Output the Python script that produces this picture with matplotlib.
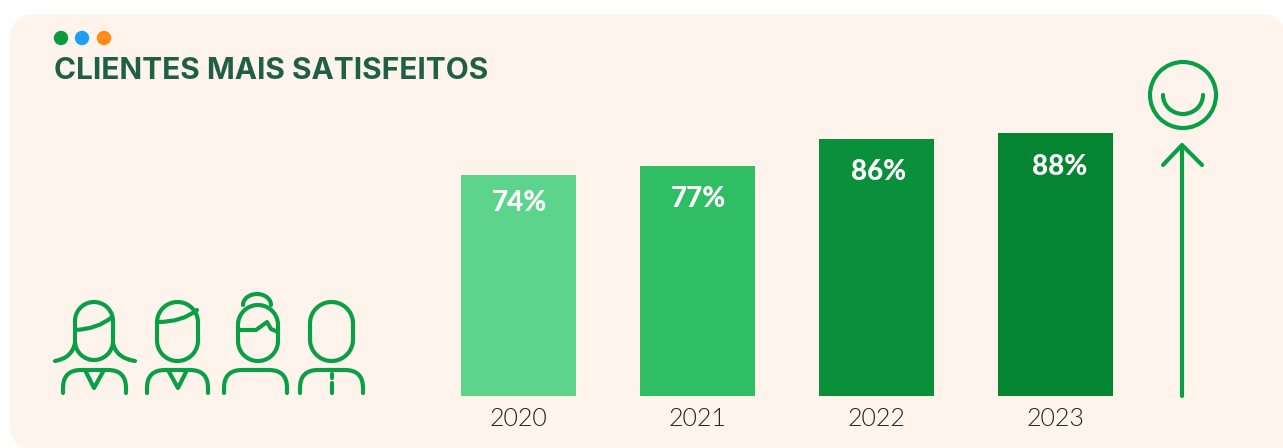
import numpy as np
import matplotlib
matplotlib.use("Agg")
import matplotlib.pyplot as plt
from matplotlib.patches import FancyBboxPatch, Circle, Arc, Rectangle
from matplotlib.path import Path
from matplotlib.patches import PathPatch

years = ["2020", "2021", "2022", "2023"]
satisfaction = [74, 77, 86, 88]
value_labels = ["74%", "77%", "86%", "88%"]
bar_colors = ["#5cd48c", "#2fbe63", "#0a8f3a", "#058432"]
label_drop = [9.5, 11.2, 11.2, 11.5]
label_shift = [1, 1, 3, 5]
title = "CLIENTES MAIS SATISFEITOS"

W, H = 1283, 448
PANEL = "#fef4ec"
GREEN = "#0a9f47"
fig = plt.figure(figsize=(W / 100, H / 100), dpi=100, facecolor="white")

bg = fig.add_axes([0, 0, 1, 1])
bg.set_xlim(0, W)
bg.set_ylim(H, 0)
bg.axis("off")
bg.add_patch(FancyBboxPatch((10, 14), 1276, 436, boxstyle="round,pad=0,rounding_size=26",
                            fc=PANEL, ec="none"))
bg.add_patch(Rectangle((600, 200), 700, 260, fc=PANEL, ec="none"))
for x, c in zip([61, 82, 104], ["#0a9b40", "#1e9ff2", "#ff8c14"]):
    bg.add_patch(Circle((x, 38), 7.2, fc=c, ec="none"))
bg.text(54, 71, title, family="Inter", weight="bold", fontsize=21.5, color="#1f5f46",
        ha="left", va="center")

LW = 3.0
def curve(verts, codes=None):
    if codes is None:
        codes = [Path.MOVETO] + [Path.LINETO] * (len(verts) - 1)
    bg.add_patch(PathPatch(Path(verts, codes), fc="none", ec=GREEN, lw=LW,
                           capstyle="round", joinstyle="round"))

def stadium(x0, x1, y0, y1):
    r = (x1 - x0) / 2
    cx = (x0 + x1) / 2
    t = np.linspace(0, np.pi, 40)
    top = np.column_stack([cx - r * np.cos(t), y0 + r - r * np.sin(t)])
    bot = np.column_stack([cx + r * np.cos(t), y1 - r + r * np.sin(t)])
    curve(np.vstack([top, bot, top[:1]]))

def shoulders(x0, x1):
    top, bot, r = 370, 393, 18
    C4 = Path.CURVE3
    curve([(x0, bot), (x0, top + r), (x0, top), (x0 + r, top), (x1 - r, top),
           (x1, top), (x1, top + r), (x1, bot)],
          [Path.MOVETO, Path.LINETO, C4, C4, Path.LINETO, C4, C4, Path.LINETO])

def quad(a, b, c):
    curve([a, b, c], [Path.MOVETO, Path.CURVE3, Path.CURVE3])

# person 1
stadium(75, 113, 302, 360)
quad((75, 330), (98, 329), (112, 317))
quad((75, 343), (72, 358), (55, 361))
quad((113, 343), (116, 358), (135, 361))
shoulders(63, 126)
curve([(85, 370), (94, 388), (104, 370)])
# person 2
stadium(157, 198, 302, 361)
quad((158, 322), (182, 322), (197, 310))
shoulders(147, 208)
curve([(168, 370), (178, 388), (187, 370)])
# person 3
stadium(238, 278, 305, 361)
t = np.linspace(0, np.pi, 30)
curve(np.column_stack([257 - 14 * np.cos(t), 305 - 11 * np.sin(t)]))
curve([(238, 330), (256, 330), (267, 322), (271, 329), (278, 332)])
shoulders(224, 287)
# person 4
stadium(310, 353, 302, 361)
shoulders(300, 363)
curve([(332, 374), (332, 378)])
curve([(332, 383), (332, 393)])

# smiley and arrow
bg.add_patch(Circle((1183, 95), 33, fc="none", ec=GREEN, lw=LW))
bg.add_patch(Arc((1183, 95), 40, 38, theta1=0, theta2=180, ec=GREEN, lw=LW, capstyle="round"))
curve([(1163, 165), (1182, 145), (1202, 165)])
curve([(1182, 150), (1182, 396)])

# bars
left = 518 - 179 / 2
ax = fig.add_axes([left / W, (H - 396) / H, 716 / W, 299 / H])
ax.patch.set_alpha(0)
xs = np.arange(len(years))
ax.bar(xs, satisfaction, width=115 / 179, color=bar_colors)
ax.set_xlim(-0.5, 3.5)
ax.set_ylim(0, 100)
ax.set_yticks([])
ax.set_xticks(xs, years, family="Lato", weight=300, fontsize=18, color="#222222")
ax.tick_params(axis="x", length=0, pad=8)
for s in ax.spines.values():
    s.set_visible(False)
for x, v, lab, d, sh in zip(xs, satisfaction, value_labels, label_drop, label_shift):
    ax.text(x + sh / 179, v - d, lab, color="white", family="Lato", weight="black",
            fontsize=20, ha="center", va="center")

fig.savefig("out.png", dpi=100, facecolor="white")
